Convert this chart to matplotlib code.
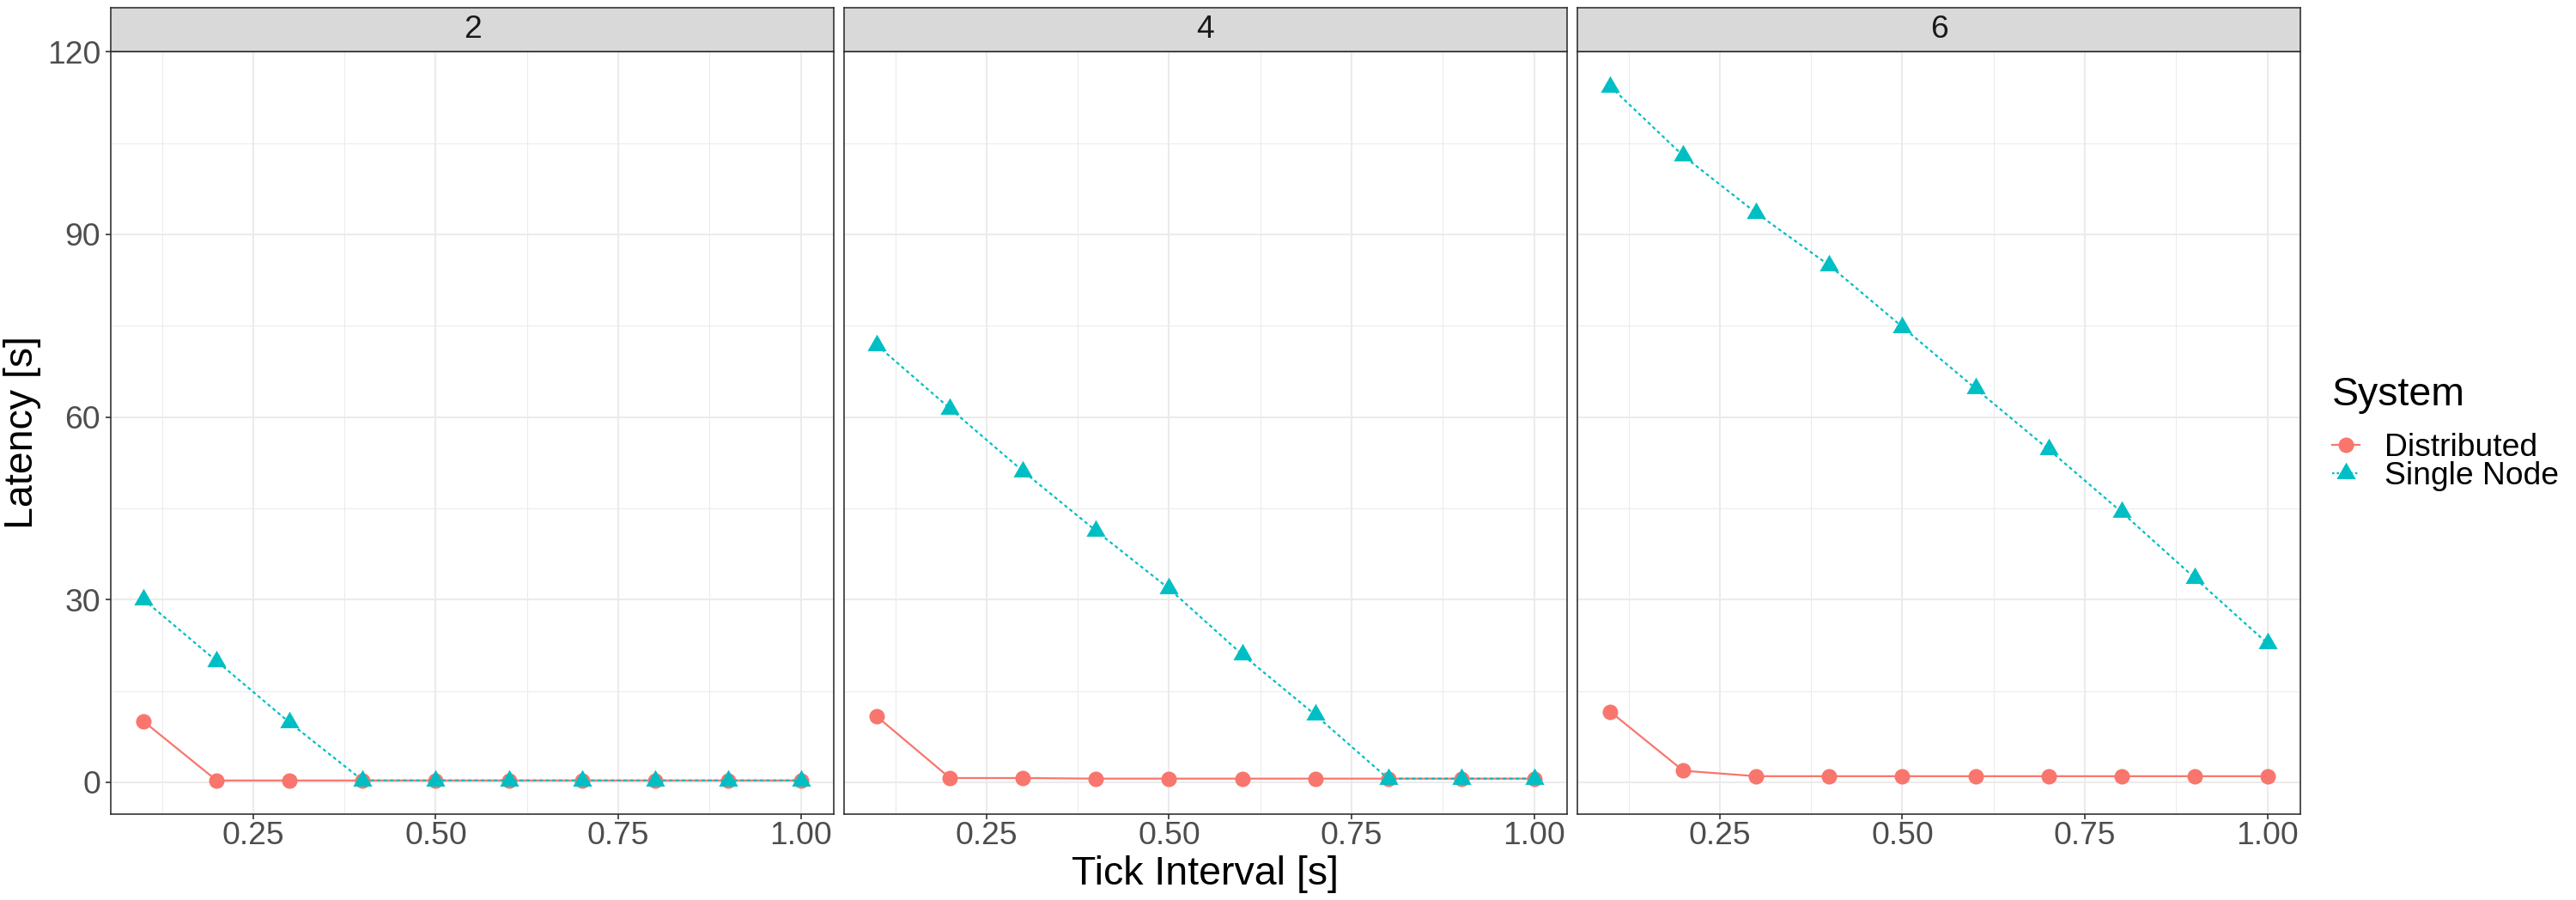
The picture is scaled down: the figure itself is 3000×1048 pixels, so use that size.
import matplotlib
matplotlib.use("Agg")
import matplotlib.pyplot as plt
from matplotlib.lines import Line2D
from matplotlib.ticker import FixedLocator
import numpy as np

plt.rcParams['font.family'] = ['Liberation Sans', 'DejaVu Sans']

# ---- data ----
tick_interval = [0.1, 0.2, 0.3, 0.4, 0.5, 0.6, 0.7, 0.8, 0.9, 1.0]
panels = ["2", "4", "6"]
distributed_2 = [10.0, 0.3, 0.3, 0.3, 0.3, 0.3, 0.3, 0.3, 0.3, 0.3]
single_2 = [30.0, 19.9, 9.8, 0.3, 0.3, 0.3, 0.3, 0.3, 0.3, 0.3]
distributed_4 = [10.8, 0.7, 0.7, 0.6, 0.6, 0.6, 0.6, 0.6, 0.6, 0.6]
single_4 = [71.8, 61.4, 51.1, 41.3, 31.8, 21.0, 11.1, 0.6, 0.6, 0.6]
distributed_6 = [11.6, 1.9, 1.0, 1.0, 1.0, 1.0, 1.0, 1.0, 1.0, 1.0]
single_6 = [114.3, 102.9, 93.5, 84.9, 74.8, 64.7, 54.7, 44.4, 33.6, 22.8]
series_names = ["Distributed", "Single Node"]
y_ticks = [0, 30, 60, 90, 120]
x_ticks = [0.25, 0.50, 0.75, 1.00]
x_tick_labels = ["0.25", "0.50", "0.75", "1.00"]

distributed = [distributed_2, distributed_4, distributed_6]
single = [single_2, single_4, single_6]

# ---- style ----
RED = "#F8766D"
CYAN = "#00BFC4"
GRID = "#EBEBEB"
DARK = "#333333"
W, H = 3000, 1048
BASE = 33.5
SMALL = 26.8
LW = 1.6
MS_C = 13
MS_T = 18.5
tri = [(-1.0, -0.57735), (1.0, -0.57735), (0.0, 1.1547), (-1.0, -0.57735)]
DASH = (0, (1.8, 1.6))

fig = plt.figure(figsize=(W / 100, H / 100), dpi=100)

lefts = [129, 983, 1837]
pw = 842
ptop, pbot = 59.5, 947.8
stop = 9.4

axes = []
for i, name in enumerate(panels):
    ax = fig.add_axes([lefts[i] / W, 1 - pbot / H, pw / W, (pbot - ptop) / H])
    axes.append(ax)
    ax.set_xlim(0.055, 1.045)
    ax.set_ylim(-5.2, 120.1)
    ax.xaxis.set_major_locator(FixedLocator(x_ticks))
    ax.xaxis.set_minor_locator(FixedLocator([0.125, 0.375, 0.625, 0.875]))
    ax.yaxis.set_major_locator(FixedLocator(y_ticks))
    ax.yaxis.set_minor_locator(FixedLocator([15, 45, 75, 105]))
    ax.grid(True, which="major", color=GRID, linewidth=1.5)
    ax.grid(True, which="minor", color=GRID, linewidth=0.75)
    ax.set_axisbelow(True)
    for s in ax.spines.values():
        s.set_color(DARK)
        s.set_linewidth(1.2)
    ax.set_xticklabels(x_tick_labels)
    ax.tick_params(axis="x", which="major", length=4.5, width=1.2, color=DARK,
                   labelsize=SMALL, labelcolor="#4D4D4D", pad=1.5)
    ax.tick_params(axis="y", which="major", length=4.5, width=1.2, color=DARK,
                   labelsize=SMALL, labelcolor="#4D4D4D", pad=4)
    ax.tick_params(which="minor", length=0)
    if i > 0:
        ax.tick_params(axis="y", which="major", length=0, labelleft=False)
    ax.plot(tick_interval, distributed[i], color=RED, lw=LW, ls="-",
            marker="o", markersize=MS_C, markeredgewidth=0, zorder=3)
    ax.plot(tick_interval, single[i], color=CYAN, lw=LW, ls=DASH,
            dash_capstyle="butt", marker=tri, markersize=MS_T, markeredgewidth=0, zorder=4)

    sax = fig.add_axes([lefts[i] / W, 1 - ptop / H, pw / W, (ptop - stop) / H])
    sax.set_facecolor("#D9D9D9")
    sax.set_xticks([])
    sax.set_yticks([])
    for s in sax.spines.values():
        s.set_color(DARK)
        s.set_linewidth(1.2)
    sax.text(0.5, 0.5, name, ha="center", va="center", fontsize=SMALL,
             color="#1A1A1A", transform=sax.transAxes)

axes[0].set_ylabel("Latency [s]", fontsize=BASE, color="black", labelpad=5)
fig.text((lefts[0] + lefts[2] + pw) / 2 / W, 1 - 1030 / H, "Tick Interval [s]",
         ha="center", va="baseline", fontsize=BASE, color="black")

handles = [
    Line2D([], [], color=RED, lw=LW, ls="-", marker="o", markersize=MS_C, markeredgewidth=0),
    Line2D([], [], color=CYAN, lw=LW, ls=(0, (1.2, 1.2)), marker=tri, markersize=MS_T,
           markeredgewidth=0),
]
leg = fig.legend(handles, series_names, loc="center left",
                 bbox_to_anchor=(2716 / W, 1 - 505 / H), frameon=False,
                 fontsize=SMALL, title="System", title_fontsize=BASE,
                 handlelength=0.85, handletextpad=0.8, labelspacing=-0.05,
                 borderpad=0, borderaxespad=0, alignment="left")
leg._legend_box.sep = 16

fig.savefig("out.png", dpi=100, facecolor="white")
